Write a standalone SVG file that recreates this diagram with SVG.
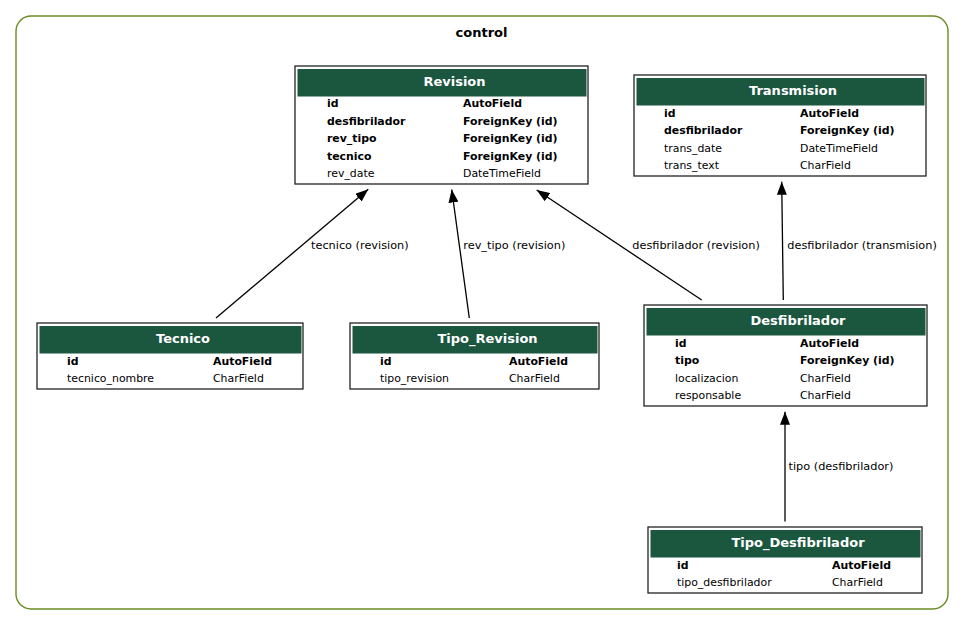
<svg xmlns="http://www.w3.org/2000/svg" width="964" height="625" viewBox="0 0 964 625">
  <style>
    .cluster { fill: #ffffff; stroke: #698b22; stroke-width: 1.4; }
    .ctitle { font-family: "DejaVu Sans", sans-serif; font-size: 13px; font-weight: bold; fill: #000; text-anchor: middle; }
    .tbl { fill: #ffffff; stroke: #222222; stroke-width: 1.3; }
    .hdr { fill: #1b563f; stroke: none; }
    .htxt { font-family: "DejaVu Sans", sans-serif; font-size: 13px; font-weight: bold; fill: #ffffff; text-anchor: middle; }
    .f { font-family: "DejaVu Sans", sans-serif; font-size: 10.9px; fill: #000; }
    .b { font-weight: bold; }
    .edge { fill: none; stroke: #000; stroke-width: 1.3; }
    .elbl { font-family: "DejaVu Sans", sans-serif; font-size: 11.3px; fill: #000; }
  </style>
  <defs>
    <marker id="arrow" markerUnits="userSpaceOnUse" viewBox="0 0 13 10" markerWidth="13" markerHeight="10" refX="13" refY="5" orient="auto">
      <path d="M0,0 L13,5 L0,10 z" fill="#000"/>
    </marker>
  </defs>

  <rect width="964" height="625" fill="#ffffff"/>

  <!-- app cluster -->
  <g id="cluster_control">
    <rect class="cluster" x="16" y="16" width="932" height="593" rx="15" ry="15"/>
    <text class="ctitle" x="481.5" y="37">control</text>
  </g>

  <!-- relations -->
  <g id="connectors">
    <path class="edge" d="M216,318 L368.3,189.3" marker-end="url(#arrow)"/>
    <text class="elbl" x="311" y="248.5">tecnico (revision)</text>
    <path class="edge" d="M469.3,318 L451.7,189.5" marker-end="url(#arrow)"/>
    <text class="elbl" x="463.3" y="248.5">rev_tipo (revision)</text>
    <path class="edge" d="M701.7,300 L536.7,190" marker-end="url(#arrow)"/>
    <text class="elbl" x="632.3" y="248.5">desfibrilador (revision)</text>
    <path class="edge" d="M783.3,300 L781.7,181.7" marker-end="url(#arrow)"/>
    <text class="elbl" x="787.3" y="248.5">desfibrilador (transmision)</text>
    <path class="edge" d="M785,521.5 L785,411.7" marker-end="url(#arrow)"/>
    <text class="elbl" x="788.5" y="469.5">tipo (desfibrilador)</text>
  </g>

  <!-- Revision -->
  <g id="Revision">
    <rect class="tbl" x="295" y="66" width="293" height="118"/>
    <rect class="hdr" x="297.5" y="69" width="289" height="27.5"/>
    <text class="htxt" x="454.5" y="85.5">Revision</text>
    <text class="f b" x="327" y="107">id</text><text class="f b" x="463" y="107">AutoField</text>
    <text class="f b" x="327" y="124.5">desfibrilador</text><text class="f b" x="463" y="124.5">ForeignKey (id)</text>
    <text class="f b" x="327" y="142">rev_tipo</text><text class="f b" x="463" y="142">ForeignKey (id)</text>
    <text class="f b" x="327" y="159.5">tecnico</text><text class="f b" x="463" y="159.5">ForeignKey (id)</text>
    <text class="f" x="327" y="177">rev_date</text><text class="f" x="463" y="177">DateTimeField</text>
  </g>

  <!-- Transmision -->
  <g id="Transmision">
    <rect class="tbl" x="634" y="75" width="292" height="101"/>
    <rect class="hdr" x="636.5" y="78" width="288" height="27.5"/>
    <text class="htxt" x="793" y="95">Transmision</text>
    <text class="f b" x="664" y="116.5">id</text><text class="f b" x="800" y="116.5">AutoField</text>
    <text class="f b" x="664" y="134">desfibrilador</text><text class="f b" x="800" y="134">ForeignKey (id)</text>
    <text class="f" x="664" y="151.5">trans_date</text><text class="f" x="800" y="151.5">DateTimeField</text>
    <text class="f" x="664" y="169">trans_text</text><text class="f" x="800" y="169">CharField</text>
  </g>

  <!-- Tecnico -->
  <g id="Tecnico">
    <rect class="tbl" x="37" y="323" width="266" height="66"/>
    <rect class="hdr" x="39.5" y="326" width="262" height="27.5"/>
    <text class="htxt" x="183" y="342.5">Tecnico</text>
    <text class="f b" x="67" y="364.5">id</text><text class="f b" x="213" y="364.5">AutoField</text>
    <text class="f" x="67" y="382">tecnico_nombre</text><text class="f" x="213" y="382">CharField</text>
  </g>

  <!-- Tipo_Revision -->
  <g id="Tipo_Revision">
    <rect class="tbl" x="350" y="323" width="249" height="66"/>
    <rect class="hdr" x="352.5" y="326" width="245" height="27.5"/>
    <text class="htxt" x="487.5" y="342.5">Tipo_Revision</text>
    <text class="f b" x="380" y="364.5">id</text><text class="f b" x="509" y="364.5">AutoField</text>
    <text class="f" x="380" y="382">tipo_revision</text><text class="f" x="509" y="382">CharField</text>
  </g>

  <!-- Desfibrilador -->
  <g id="Desfibrilador">
    <rect class="tbl" x="644" y="305" width="283" height="101"/>
    <rect class="hdr" x="646.5" y="308" width="279" height="27.5"/>
    <text class="htxt" x="798" y="325">Desfibrilador</text>
    <text class="f b" x="675" y="346.5">id</text><text class="f b" x="800" y="346.5">AutoField</text>
    <text class="f b" x="675" y="364">tipo</text><text class="f b" x="800" y="364">ForeignKey (id)</text>
    <text class="f" x="675" y="381.5">localizacion</text><text class="f" x="800" y="381.5">CharField</text>
    <text class="f" x="675" y="399">responsable</text><text class="f" x="800" y="399">CharField</text>
  </g>

  <!-- Tipo_Desfibrilador -->
  <g id="Tipo_Desfibrilador">
    <rect class="tbl" x="648" y="527" width="274" height="66"/>
    <rect class="hdr" x="650.5" y="530" width="270" height="27.5"/>
    <text class="htxt" x="798" y="546.5">Tipo_Desfibrilador</text>
    <text class="f b" x="677" y="568.5">id</text><text class="f b" x="832" y="568.5">AutoField</text>
    <text class="f" x="677" y="586">tipo_desfibrilador</text><text class="f" x="832" y="586">CharField</text>
  </g>
</svg>
